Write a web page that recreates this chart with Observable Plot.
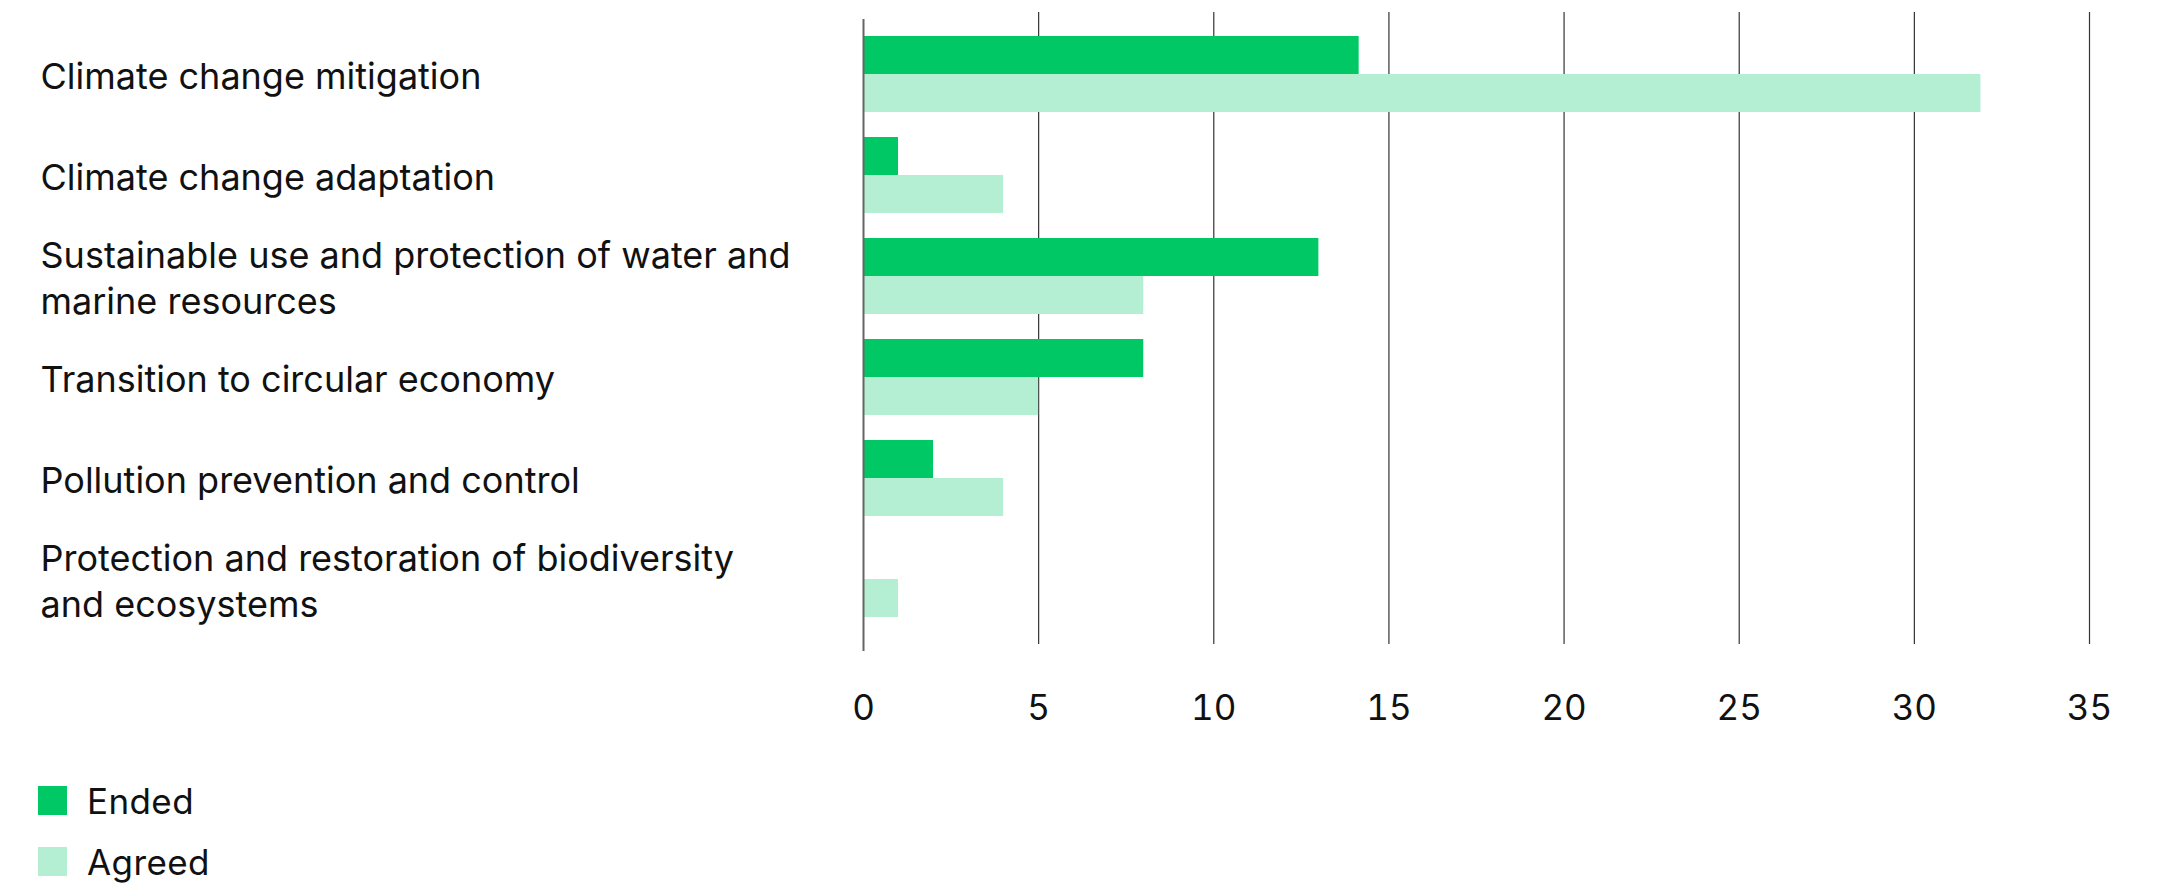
<!DOCTYPE html>
<html>
<head>
<meta charset="utf-8">
<script src="https://cdn.jsdelivr.net/npm/d3@7"></script>
<script src="https://cdn.jsdelivr.net/npm/@observablehq/plot@0.6"></script>
<style>
  html, body { margin: 0; padding: 0; background: #fff; }
  #legend { font-family: Inter, "Noto Sans", sans-serif; font-size: 35px; letter-spacing: 0.4px; color: #111; margin-left: 38px; }
  .row { display: flex; align-items: center; height: 61px; }
  .sw { width: 29px; height: 29px; margin-right: 20px; }
</style>
</head>
<body>
<div id="chart"></div>
<div id="legend"></div>
<script>
const categories = [
  "Climate change mitigation",
  "Climate change adaptation",
  "Sustainable use and protection of water and marine resources",
  "Transition to circular economy",
  "Pollution prevention and control",
  "Protection and restoration of biodiversity and ecosystems"
];
const categoryLabels = [
  "Climate change mitigation",
  "Climate change adaptation",
  "Sustainable use and protection of water and\nmarine resources",
  "Transition to circular economy",
  "Pollution prevention and control",
  "Protection and restoration of biodiversity\nand ecosystems"
];
const ended  = [14.15, 1, 13, 8, 2, 0];
const agreed = [31.9, 4, 8, 5, 4, 1];
const series = ["Ended", "Agreed"];
const colors = ["#00c864", "#b4eed3"];
const xTicks = [0, 5, 10, 15, 20, 25, 30, 35];

const endedData = categories.map((c, i) => ({category: c, value: ended[i]}));
const agreedData = categories.map((c, i) => ({category: c, value: agreed[i]}));
const labelData = categories.map((c, i) => ({category: c, label: categoryLabels[i]}));

const W = 2182, H = 745;
const mTop = 12, mBottom = H - 644, mLeft = 863, mRight = W - 2089;

function build(bw) {
  return Plot.plot({
    width: W,
    height: H,
    marginTop: mTop,
    marginBottom: mBottom,
    marginLeft: mLeft,
    marginRight: mRight,
    style: {fontFamily: "Inter, 'Noto Sans', sans-serif", fontSize: "35px", color: "#111", background: "#fff"},
    x: {domain: [0, 35], ticks: xTicks, tickSize: 0, tickPadding: 51, label: null},
    y: {domain: categories, paddingInner: 0.25, paddingOuter: 0.2415, align: 0.47, axis: null},
    marks: [
      Plot.ruleX(xTicks.slice(1), {stroke: "#333", strokeWidth: 1.2}),
      Plot.barX(endedData, {x: "value", y: "category", fill: colors[0], insetBottom: bw / 2}),
      Plot.barX(agreedData, {x: "value", y: "category", fill: colors[1], insetTop: bw / 2}),
      Plot.ruleX([0], {stroke: "#666", strokeWidth: 2, dy: 7}),
      Plot.text(labelData, {y: "category", text: "label", frameAnchor: "left", textAnchor: "start", dx: 40 - mLeft, lineHeight: 1.27, fill: "#111", fontSize: 36, letterSpacing: "0.6px"})
    ]
  });
}

let probe = build(0);
let bw = 76;
try { const s = probe.scale("y"); if (s && s.bandwidth) bw = s.bandwidth; } catch (e) {}
const chart = build(bw);
document.getElementById("chart").appendChild(chart);

const legend = document.getElementById("legend");
legend.style.marginTop = (770 - H) + "px";
series.forEach((s, i) => {
  const row = document.createElement("div");
  row.className = "row";
  const sw = document.createElement("div");
  sw.className = "sw";
  sw.style.background = colors[i];
  const t = document.createElement("span");
  t.textContent = s;
  row.appendChild(sw);
  row.appendChild(t);
  legend.appendChild(row);
});
</script>
</body>
</html>
